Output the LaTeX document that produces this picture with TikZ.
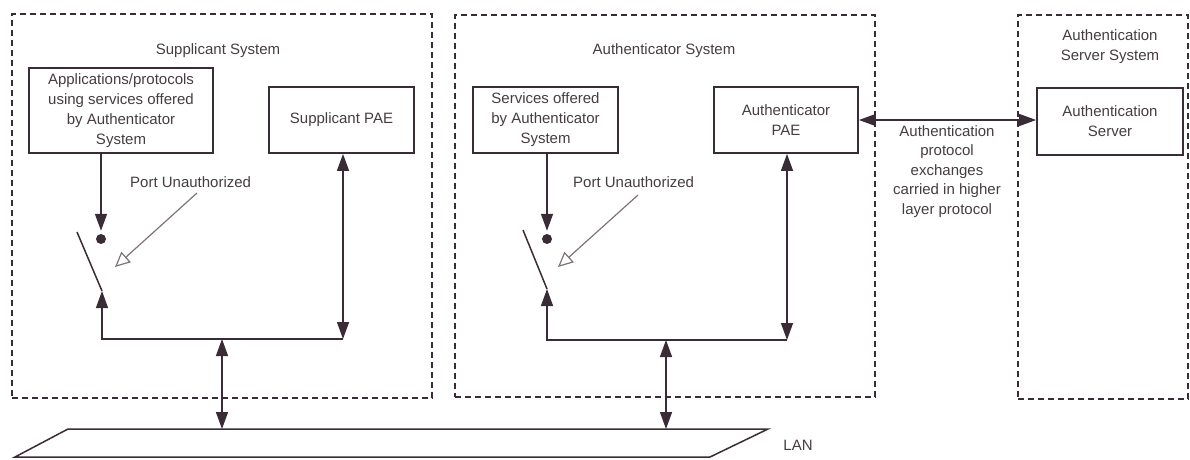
\documentclass[tikz,border=0pt]{standalone}
\usepackage{fontspec}
\setmainfont{Liberation Sans}
\usetikzlibrary{arrows.meta}
\definecolor{ink}{RGB}{58,44,54}
\definecolor{txt}{RGB}{70,60,66}
\definecolor{pointer}{RGB}{125,115,120}
\begin{document}
\begin{tikzpicture}[x=1pt,y=-1pt,
  every node/.style={font=\fontsize{15}{20}\selectfont, text=txt},
  sysbox/.style={draw=ink, line width=1.6pt, dash pattern=on 6pt off 4pt, inner sep=0pt},
  unitbox/.style={draw=ink, line width=1.8pt, inner sep=0pt, align=center},
  wire/.style={draw=ink, line width=1.5pt},
  tri/.style={-{Triangle[length=17pt,width=12pt]}},
  tritri/.style={{Triangle[length=17pt,width=12pt]}-{Triangle[length=17pt,width=12pt]}},
  contact/.style={circle, fill=ink, minimum size=10pt, inner sep=0pt},
  pointer/.style={draw=pointer, line width=1.2pt, -{Triangle[open,length=15pt,width=14pt]}},
  label/.style={inner sep=0pt, align=center}]
\useasboundingbox (0,0) rectangle (1190,459);

% ---- system enclosures ----
\node[sysbox, minimum width=420pt, minimum height=384pt] (supsys) at (222,206) {};
\node[sysbox, minimum width=420pt, minimum height=382pt] (authsys) at (665,206) {};
\node[sysbox, minimum width=170pt, minimum height=384pt] (srvsys) at (1103,207) {};

\node[label] (supsyslbl) at (218,51) {Supplicant System};
\node[label] (authsyslbl) at (664,51) {Authenticator System};
\node[label] (srvsyslbl) at (1110,47) {Authentication\\Server System};

% ---- functional blocks ----
\node[unitbox, minimum width=184pt, minimum height=85pt] (app) at (121,110.5)
  {Applications/protocols\\using services offered\\by Authenticator\\System};
\node[unitbox, minimum width=145pt, minimum height=66pt] (suppae) at (341.5,120) {Supplicant PAE};
\node[unitbox, minimum width=145pt, minimum height=66pt] (svc) at (545.5,120)
  {Services offered\\by Authenticator\\System};
\node[unitbox, minimum width=144pt, minimum height=66pt] (authpae) at (786,120) {Authenticator\\PAE};
\node[unitbox, minimum width=146pt, minimum height=67pt] (authsrv) at (1110,121.5) {Authentication\\Server};

% ---- LAN ----
\coordinate (lan1) at (15,457);
\coordinate (lan2) at (68,429);
\coordinate (lan3) at (768,429);
\coordinate (lan4) at (710,457);
\draw[wire] (lan1) -- (lan2) -- (lan3) -- (lan4) -- cycle;
\node[label] (lanlbl) at (798,445) {LAN};

% ---- supplicant side: controlled port ----
\node[contact] (d1) at (101,239) {};
\draw[wire, tri] (app.south -| d1) -- ([yshift=3pt]d1.north);
\coordinate (s1a) at (77,232);
\coordinate (s1b) at (102,291);
\draw[wire] (s1a) -- (s1b);
\coordinate (b1l) at (102,339);
\coordinate (b1r) at (343,339);
\draw[wire, tritri] (suppae.south -| b1r) -- (b1r);
\draw[wire, tri] (b1r) -- (b1l) -- (s1b);
\coordinate (t1) at (222,339);
\draw[wire, tritri] (t1) -- (t1 |- lan2);
\node[label, anchor=west] (pu1) at (130,182) {Port Unauthorized};
\coordinate (p1a) at (197,193);
\coordinate (p1b) at (115,267);
\draw[pointer] (p1a) -- (p1b);

% ---- authenticator side: controlled port ----
\node[contact] (d2) at (547,239) {};
\draw[wire, tri] (svc.south -| d2) -- ([yshift=3pt]d2.north);
\coordinate (s2a) at (523,230);
\coordinate (s2b) at (547,289);
\draw[wire] (s2a) -- (s2b);
\coordinate (b2l) at (547,340);
\coordinate (b2r) at (787,340);
\draw[wire, tritri] (authpae.south -| b2r) -- (b2r);
\draw[wire, tri] (b2r) -- (b2l) -- (s2b);
\coordinate (t2) at (666,340);
\draw[wire, tritri] (t2) -- (t2 |- lan2);
\node[label, anchor=west] (pu2) at (573,182) {Port Unauthorized};
\coordinate (p2a) at (638,195);
\coordinate (p2b) at (558,267);
\draw[pointer] (p2a) -- (p2b);

% ---- authenticator to authentication server ----
\draw[wire, tritri] (authpae.east) -- (authpae.east -| authsrv.west);
\node[label, anchor=north, font=\fontsize{15}{19.5}\selectfont] (xchg) at (947,125)
  {Authentication\\protocol\\exchanges\\carried in higher\\layer protocol};
\end{tikzpicture}
\end{document}
